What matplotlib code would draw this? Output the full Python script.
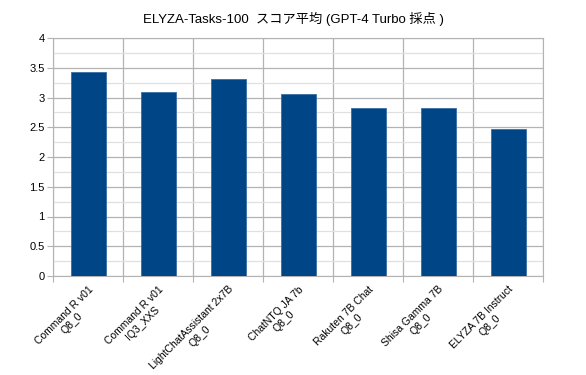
import matplotlib
matplotlib.use('Agg')
import matplotlib.pyplot as plt
import numpy as np

plt.rcParams['font.family'] = ['Liberation Sans', 'Noto Sans CJK JP', 'DejaVu Sans']

# データ
models = ['Command R v01\nQ8_0', 'Command R v01\nIQ3_XXS', 'LightChatAssistant 2x7B\nQ8_0',
          'ChatNTQ JA 7b\nQ8_0', 'Rakuten 7B Chat\nQ8_0', 'Shisa Gamma 7B\nQ8_0',
          'ELYZA 7B Instruct\nQ8_0']
scores = [3.43, 3.09, 3.31, 3.06, 2.82, 2.82, 2.47]
y_ticks = [0, 0.5, 1, 1.5, 2, 2.5, 3, 3.5, 4]
y_tick_labels = ['0', '0.5', '1', '1.5', '2', '2.5', '3', '3.5', '4']

fig = plt.figure(figsize=(5.86, 3.75), dpi=100)
ax = fig.add_axes([53 / 586, 1 - 276 / 375, (543 - 53) / 586, (276 - 38) / 375])

x = np.arange(len(models))
ax.bar(x, scores, width=0.5, color='#004586', edgecolor='#3a6ea5', linewidth=0.6, zorder=3)

ax.set_xlim(-0.5, len(models) - 0.5)
ax.set_ylim(0, 4)

# 目盛り・グリッド
ax.set_yticks(y_ticks)
ax.set_yticklabels(y_tick_labels)
ax.set_yticks(np.arange(0.25, 4, 0.5), minor=True)
ax.set_xticks(np.arange(-0.5, len(models), 1))
ax.set_xticklabels([])
ax.set_xticks(x, minor=True)
ax.set_xticklabels(models, minor=True, rotation=45, ha='right', rotation_mode='anchor',
                   multialignment='center', fontsize=7.5)
ax.tick_params(axis='x', which='minor', length=0, pad=6)
ax.tick_params(axis='x', which='major', length=4, color='#b3b3b3', direction='out')
ax.tick_params(axis='y', which='major', length=4, color='#b3b3b3', labelsize=8, pad=2)
ax.tick_params(axis='y', which='minor', length=0)

ax.grid(axis='y', which='major', color='#b3b3b3', linewidth=0.9, zorder=0)
ax.grid(axis='y', which='minor', color='#e0e0e0', linewidth=0.9, zorder=0)
ax.grid(axis='x', which='major', color='#b3b3b3', linewidth=0.9, zorder=0)
for s in ax.spines.values():
    s.set_color('#b3b3b3')

fig.text(0.5, 1 - 19 / 375, 'ELYZA-Tasks-100  スコア平均 (GPT-4 Turbo 採点 )',
         ha='center', va='center', fontsize=9.5)

plt.savefig('out.png', dpi=100)
